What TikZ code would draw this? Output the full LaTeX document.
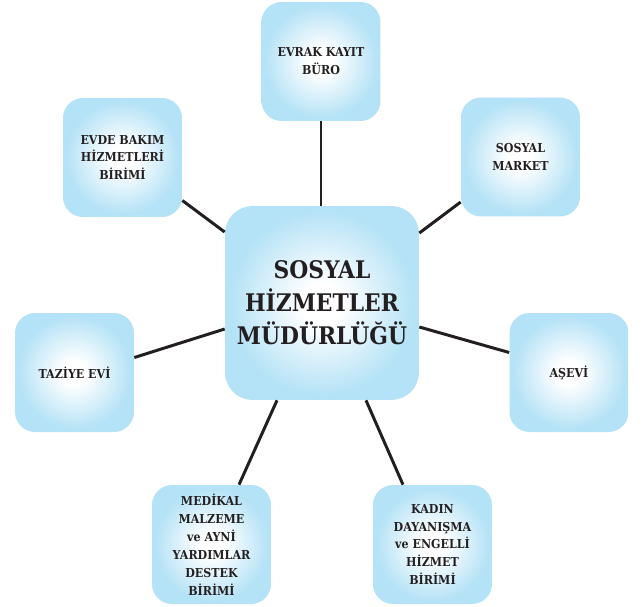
\documentclass[tikz,border=0pt]{standalone}
\usepackage{fontspec}
\setmainfont{DejaVu Serif}[FakeStretch=0.9]
\usepackage{tikz}
\usetikzlibrary{calc}

\definecolor{boxblue}{RGB}{180,226,246}
\definecolor{inkdark}{RGB}{35,31,32}
\pgfdeclareradialshading{boxglow}{\pgfpoint{0bp}{0bp}}{color(0bp)=(white); color(5bp)=(white); color(24bp)=(boxblue); color(50bp)=(boxblue)}

\tikzset{
  unitbox/.style={rectangle, rounded corners=0.4cm, shading=boxglow, minimum width=2.38cm, minimum height=2.38cm, inner sep=0pt, align=center, text=inkdark, font=\fontsize{7}{10.2}\selectfont\bfseries},
  headbox/.style={unitbox, rounded corners=0.55cm, minimum width=3.88cm, minimum height=3.88cm, font=\fontsize{13.8}{18.7}\selectfont\bfseries},
  link/.style={draw=inkdark, line width=1.7pt}
}

\begin{document}
\begin{tikzpicture}[x=0.02cm, y=-0.02cm]
	\useasboundingbox (0,0) rectangle (642,606);
	\node [headbox] (mudurluk) at (322,303) {SOSYAL\\HİZMETLER\\MÜDÜRLÜĞÜ}; % merkez
	\node [unitbox] (evrak) at (321,61.5) {EVRAK KAYIT\\BÜRO};
	\node [unitbox] (evde) at (122.5,157.5) {EVDE BAKIM\\HİZMETLERİ\\BİRİMİ};
	\node [unitbox] (market) at (520.5,157) {SOSYAL\\MARKET};
	\node [unitbox] (taziye) at (74.5,372.5) {TAZİYE EVİ};
	\node [unitbox] (asevi) at (569,372.5) {AŞEVİ};
	\node [unitbox] (medikal) at (211.5,544.5) {MEDİKAL\\MALZEME\\ve AYNİ\\YARDIMLAR\\DESTEK\\BİRİMİ};
	\node [unitbox] (kadin) at (432.5,544.5) {KADIN\\DAYANIŞMA\\ve ENGELLİ\\HİZMET\\BİRİMİ};
			\draw [link] (evrak.south) -- (evrak.south |- mudurluk.north); % dikey
			\draw [link] ($(evde.east)+(0,43)$) -- ($(mudurluk.west)+(0,-71)$);
			\draw [link] ($(market.west)+(0,45)$) -- ($(mudurluk.east)+(0,-70)$);
			\draw [link] ($(taziye.east)+(0,-15)$) -- ($(mudurluk.west)+(0,26)$);
			\draw [link] ($(asevi.west)+(0,-20)$) -- ($(mudurluk.east)+(0,24)$);
			\draw [link] ($(medikal.north)+(27.5,0)$) -- ($(mudurluk.south)+(-45,0)$); % alt sol
			\draw [link] ($(kadin.north)+(-29.5,0)$) -- ($(mudurluk.south)+(44,0)$); % alt sag
\end{tikzpicture}
\end{document}
